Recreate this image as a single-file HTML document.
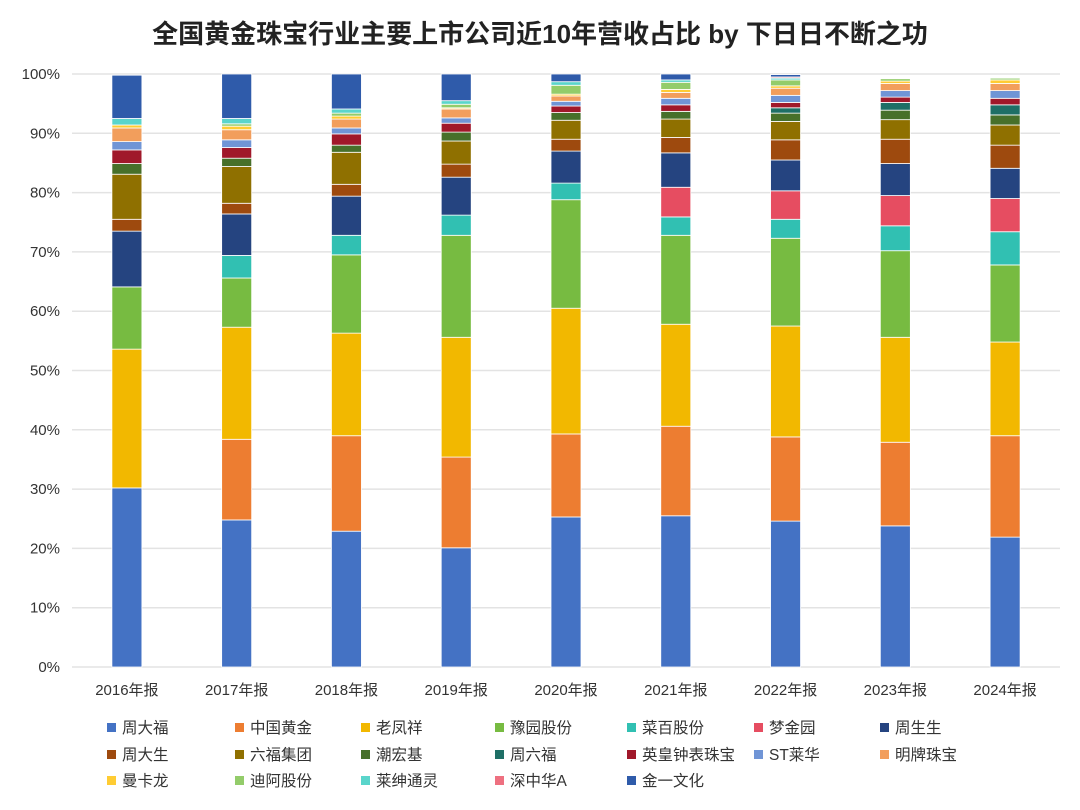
<!DOCTYPE html>
<html><head><meta charset="utf-8"><style>
body{margin:0;background:#fff;}
svg{display:block;font-family:"Liberation Sans","Noto Sans CJK SC",sans-serif;}
</style></head><body>
<svg id="chart" width="1080" height="810">
<text x="540" y="43" text-anchor="middle" font-size="26" font-weight="bold" fill="#222">全国黄金珠宝行业主要上市公司近10年营收占比 by 下日日不断之功</text>
<g id="grid"></g><g id="bars"></g><g id="axes"></g><g id="legend"></g>
</svg>
<script>
const categories = ['2016年报','2017年报','2018年报','2019年报','2020年报','2021年报','2022年报','2023年报','2024年报'];
const seriesNames = ['周大福','中国黄金','老凤祥','豫园股份','菜百股份','梦金园','周生生','周大生','六福集团','潮宏基','周六福','英皇钟表珠宝','ST莱华','明牌珠宝','曼卡龙','迪阿股份','莱绅通灵','深中华A','金一文化'];
const yTicks = [0,10,20,30,40,50,60,70,80,90,100];
const s_zdf  = [30.2,24.8,22.9,20.1,25.3,25.5,24.6,23.8,21.9];
const s_zghj = [0,13.6,16.1,15.3,14.0,15.1,14.2,14.1,17.1];
const s_lfx  = [23.4,18.9,17.3,20.2,21.2,17.2,18.7,17.7,15.8];
const s_yy   = [10.5,8.3,13.2,17.2,18.3,15.0,14.8,14.6,13.0];
const s_cb   = [0,3.8,3.3,3.4,2.8,3.1,3.2,4.2,5.6];
const s_mjy  = [0,0,0,0,0,5.0,4.8,5.1,5.6];
const s_zss  = [9.4,7.0,6.6,6.4,5.4,5.8,5.2,5.4,5.1];
const s_zds  = [2.0,1.8,2.0,2.2,2.0,2.6,3.4,4.1,3.9];
const s_lf   = [7.6,6.2,5.4,3.9,3.2,3.1,3.1,3.3,3.4];
const s_chj  = [1.8,1.4,1.2,1.5,1.3,1.3,1.4,1.6,1.7];
const s_zlf  = [0,0,0,0,0,0,0.9,1.3,1.7];
const s_yh   = [2.3,1.8,1.9,1.5,1.1,1.1,0.9,0.9,1.1];
const s_st   = [1.4,1.3,1.0,0.9,0.8,1.1,1.2,1.1,1.3];
const s_mp   = [2.3,1.7,1.5,1.5,0.9,1.0,1.2,1.2,1.2];
const s_mkl  = [0.5,0.6,0.5,0.2,0.3,0.5,0.4,0.4,0.6];
const s_da   = [0,0.4,0.5,0.6,1.5,1.2,1.0,0.4,0.3];
const s_lstl = [1.1,0.9,0.7,0.6,0.6,0.4,0.3,0,0];
const s_szh  = [0,0,0,0,0,0,0.2,0,0];
const s_jy   = [7.3,7.5,5.9,4.5,1.3,1.0,0.4,0,0];
const seriesValues = [s_zdf,s_zghj,s_lfx,s_yy,s_cb,s_mjy,s_zss,s_zds,s_lf,s_chj,s_zlf,s_yh,s_st,s_mp,s_mkl,s_da,s_lstl,s_szh,s_jy];
const colors = ['#4472C4','#ED7D31','#F2B800','#77BB41','#31C0B2','#E64D61','#254480','#9E4A0E','#8F7000','#47702A','#1E6F66','#A0182A','#7095D6','#F29E5C','#FFCC33','#93CC6A','#5AD5CB','#EE7080','#2F5BAA'];

const NS='http://www.w3.org/2000/svg';
const X0=72,X1=1060,Y0=667,Y1=74;
const yScale=v=>Y0-(v/100)*(Y0-Y1);
const band=(X1-X0)/categories.length;
const xCenter=i=>X0+band*(i+0.5);
const barW=30;
function mk(tag,attrs,parent){const e=document.createElementNS(NS,tag);for(const k in attrs)e.setAttribute(k,attrs[k]);parent.appendChild(e);return e;}
const grid=document.getElementById('grid'),bars=document.getElementById('bars'),axes=document.getElementById('axes'),legend=document.getElementById('legend');
yTicks.forEach(t=>{
  const l=mk('line',{x1:X0,x2:X1,y1:yScale(t),y2:yScale(t),stroke:'#e3e3e3','stroke-width':1.5},grid);
  
  
  const tx=mk('text',{x:60,y:yScale(t)+5,'text-anchor':'end','font-size':15,fill:'#333'},axes);
  tx.textContent=t+'%';
  
  
});
categories.forEach((c,i)=>{
  let acc=0;
  seriesValues.forEach((arr,s)=>{
    const v=arr[i]; if(!v){return;}
    const r=mk('rect',{x:xCenter(i)-barW/2,y:yScale(acc+v),width:barW,height:yScale(acc)-yScale(acc+v),fill:colors[s],stroke:'#fff','stroke-width':0.8},bars);
    
    
    acc+=v;
  });
  const tx=mk('text',{x:xCenter(i),y:695,'text-anchor':'middle','font-size':15,fill:'#333'},axes);
  tx.textContent=c;
  
  
});
const colX=[107,235,361,495,627,754,880],rowY=[728,755,781];
seriesNames.forEach((n,s)=>{
  const cx=colX[s%7],cy=rowY[Math.floor(s/7)];
  const g=mk('g',{},legend);
  
  
  mk('rect',{x:cx,y:cy-5,width:9,height:9,fill:colors[s]},g);
  const t=mk('text',{x:cx+15,y:cy+5,'font-size':15.5,fill:'#333'},g);
  t.textContent=n;
});
</script>
</body></html>
